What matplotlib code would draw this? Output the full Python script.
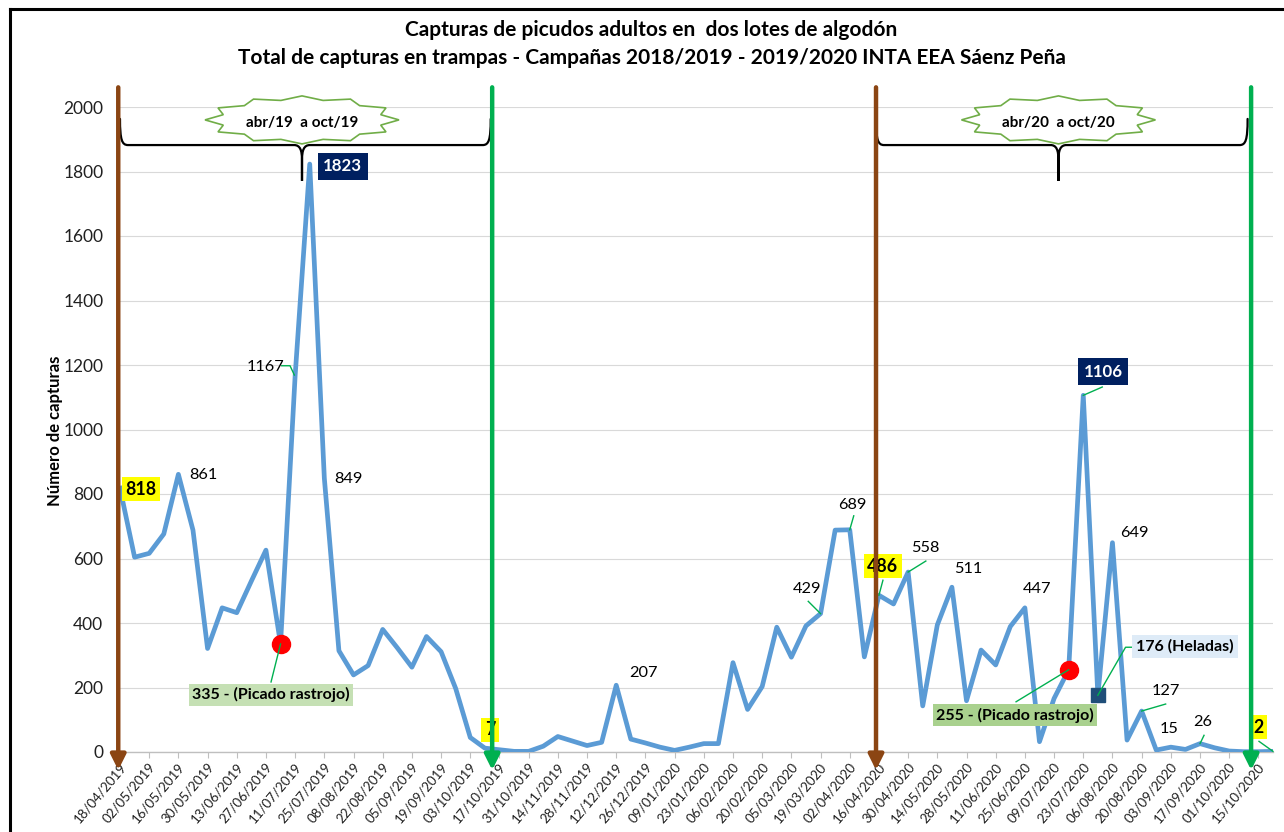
import numpy as np
import matplotlib
matplotlib.use("Agg")
import matplotlib.pyplot as plt
from matplotlib.path import Path
from matplotlib.patches import PathPatch, Polygon
from matplotlib.lines import Line2D
from matplotlib.transforms import ScaledTranslation

plt.rcParams['font.family'] = ['Lato', 'DejaVu Sans']

# capturas semanales 18/04/2019 .. 22/10/2020
capturas = [818, 604, 616, 676, 861, 688, 321, 447, 432, 530,
            626, 335, 1167, 1823, 849, 314, 239, 268, 380, 323,
            263, 358, 311, 197, 45, 12, 7, 2, 2, 18,
            48, 34, 20, 30, 207, 40, 28, 15, 5, 15,
            26, 26, 277, 132, 203, 387, 294, 391, 429, 688,
            689, 295, 486, 459, 558, 143, 394, 511, 159, 316,
            270, 389, 447, 32, 166, 255, 1106, 176, 649, 37,
            127, 6, 15, 8, 26, 13, 3, 1, 1, 2]

fechas = ['18/04/2019', '02/05/2019', '16/05/2019', '30/05/2019', '13/06/2019',
          '27/06/2019', '11/07/2019', '25/07/2019', '08/08/2019', '22/08/2019',
          '05/09/2019', '19/09/2019', '03/10/2019', '17/10/2019', '31/10/2019',
          '14/11/2019', '28/11/2019', '12/12/2019', '26/12/2019', '09/01/2020',
          '23/01/2020', '06/02/2020', '20/02/2020', '05/03/2020', '19/03/2020',
          '02/04/2020', '16/04/2020', '30/04/2020', '14/05/2020', '28/05/2020',
          '11/06/2020', '25/06/2020', '09/07/2020', '23/07/2020', '06/08/2020',
          '20/08/2020', '03/09/2020', '17/09/2020', '01/10/2020', '15/10/2020']

picado_idx = [11, 65]
helada_idx = [67]

# marcas de inicio (marrón) y fin (verde) de cada campaña
inicio_x = [-0.12, 51.8]
fin_x = [25.5, 77.5]
periodos = ['abr/19  a oct/19', 'abr/20  a oct/20']
llave_x = [(0, 12.47, 25.4), (51.8, 64.3, 77.26)]

# etiquetas: indice, texto, desplazamiento en px (x, y hacia abajo), tipo, guia
etiquetas = [
    (0, '818', 21, 1, 'amarillo', None),
    (4, '861', 25, 1, 'normal', None),
    (12, '1167', -30, -9, 'normal', [(-13.4, -9.9), (-5.1, -9.9), (-0.8, -0.6)]),
    (13, '1823', 33, 2, 'azul', None),
    (14, '849', 24, 1, 'normal', None),
    (11, '335 - (Picado rastrojo)', -9.5, 51, 'verde1', [(-9.5, 38), (0, 0)]),
    (26, '7', -9.5, -20, 'amarillo', None),
    (34, '207', 27, -12, 'normal', None),
    (48, '429', -13.3, -25, 'normal', [(-12.3, -12.3), (0, 0)]),
    (50, '689', 3, -25, 'normal', [(4, -14), (0, 0)]),
    (52, '486', 4, -29, 'amarillo', [(4, -15), (0, 0)]),
    (54, '558', 17, -24, 'normal', [(17.7, -11), (0, 0)]),
    (57, '511', 16.6, -18, 'normal', None),
    (62, '447', 11.7, -19.3, 'normal', None),
    (66, '1106', 20, -23.5, 'azul', [(19, -8.3), (0, 0)]),
    (68, '649', 21.7, -10, 'normal', None),
    (67, '176 (Heladas)', 87.4, -48.7, 'celeste', [(36, -48), (27.7, -48), (0, 0)]),
    (65, '255 - (Picado rastrojo)', -53.6, 45.3, 'verde2', [(-52.6, 32), (0, 0)]),
    (70, '127', 24, -20, 'normal', [(24, -7), (0, 0)]),
    (72, '15', -1.7, -18.3, 'normal', None),
    (74, '26', 3, -21.3, 'normal', [(4, -8.3), (0, 0)]),
    (79, '2', -14.3, -24, 'amarillo', [(-14, -10), (0, 0)]),
]

W, H = 1284, 832
fig = plt.figure(figsize=(W / 100, H / 100), dpi=100)
L, R, B, T = 120, 1273, 752, 107
ax = fig.add_axes([L / W, (H - B) / H, (R - L) / W, (B - T) / H])

x = np.arange(len(capturas))
ax.set_xlim(0, len(capturas) - 1)
ax.set_ylim(0, 2000)
PX_X = (R - L) / (len(capturas) - 1)
PX_Y = (B - T) / 2000


def off(i, v, dx, dy):
    return i + dx / PX_X, v - dy / PX_Y


ax.grid(axis='y', color='#D9D9D9', lw=0.8)
ax.set_axisbelow(True)
for s in ['top', 'right', 'left']:
    ax.spines[s].set_visible(False)
ax.spines['bottom'].set_color('#BFBFBF')
ax.spines['bottom'].set_linewidth(1)

ax.plot(x, capturas, color='#5B9BD5', lw=3.4, solid_joinstyle='round', zorder=3)
ax.plot(picado_idx, [capturas[i] for i in picado_idx], 'o', color='#FF0000',
        ms=13, zorder=4)
ax.plot(helada_idx, [capturas[i] for i in helada_idx], 's', color='#1F4E79',
        ms=10, zorder=4)

ax.set_yticks(range(0, 2001, 200))
ax.tick_params(axis='y', length=0, pad=12, labelsize=12.5, labelcolor='#202020')
ax.set_xticks(range(0, len(capturas), 2))
ax.set_xticklabels(fechas, rotation=50, ha='right', va='center',
                   rotation_mode='anchor')
ax.tick_params(axis='x', length=4, color='#BFBFBF', pad=5, labelsize=9.6,
               labelcolor='#202020')
for lab in ax.get_xticklabels():
    lab.set_transform(lab.get_transform() + ScaledTranslation(4 / 100, 0, fig.dpi_scale_trans))
fig.text(55 / W, 1 - 431 / H, 'Número de capturas', rotation=90, ha='center',
         va='center', fontsize=12, fontweight='bold')

estilos = {
    'normal': dict(fontsize=11.8, color='black'),
    'amarillo': dict(fontsize=12.8, fontweight='bold', color='black',
                     bbox=dict(boxstyle='square,pad=0.2', fc='#FFFF00', ec='none')),
    'azul': dict(fontsize=12.2, fontweight='bold', color='white',
                 bbox=dict(boxstyle='square,pad=0.32', fc='#002060', ec='none')),
    'verde1': dict(fontsize=11.5, fontweight='bold', color='black',
                   bbox=dict(boxstyle='square,pad=0.22', fc='#C5E0B4', ec='none')),
    'verde2': dict(fontsize=11.5, fontweight='bold', color='black',
                   bbox=dict(boxstyle='square,pad=0.22', fc='#A9D18E', ec='none')),
    'celeste': dict(fontsize=11.5, fontweight='bold', color='black',
                    bbox=dict(boxstyle='square,pad=0.25', fc='#DEEBF7', ec='none')),
}
for i, txt, dx, dy, tipo, guia in etiquetas:
    v = capturas[i]
    tx, ty = off(i, v, dx, dy)
    ax.text(tx, ty, txt, ha='center', va='center', zorder=6, clip_on=False,
            **estilos[tipo])
    if guia:
        pts = [off(i, v, gx, gy) for gx, gy in guia]
        ax.plot([p[0] for p in pts], [p[1] for p in pts], color='#00B050',
                lw=1, zorder=5, clip_on=False)

# llaves
y_top, y_mid, y_bot = 1963, 1882, 1771
for x0, xm, x1 in llave_x:
    ddx = 8 / PX_X
    ddy = 15 / PX_Y
    verts = [(x0, y_top), (x0, y_mid + 5 / PX_Y), (x0 + 2 / PX_X, y_mid), (x0 + ddx, y_mid),
             (xm - ddx, y_mid),
             (xm - 2 / PX_X, y_mid), (xm, y_mid - 5 / PX_Y), (xm, y_mid - ddy),
             (xm, y_bot),
             (xm, y_mid - ddy),
             (xm, y_mid - 5 / PX_Y), (xm + 2 / PX_X, y_mid), (xm + ddx, y_mid),
             (x1 - ddx, y_mid),
             (x1 - 2 / PX_X, y_mid), (x1, y_mid + 5 / PX_Y), (x1, y_top)]
    codes = [Path.MOVETO, Path.CURVE4, Path.CURVE4, Path.CURVE4,
             Path.LINETO,
             Path.CURVE4, Path.CURVE4, Path.CURVE4,
             Path.LINETO, Path.LINETO,
             Path.CURVE4, Path.CURVE4, Path.CURVE4,
             Path.LINETO,
             Path.CURVE4, Path.CURVE4, Path.CURVE4]
    ax.add_patch(PathPatch(Path(verts, codes), fc='none', ec='black', lw=1.6,
                           clip_on=False, zorder=5, capstyle='round'))

# estrellas con el periodo
n_puntas = 12
ang = np.linspace(0, 2 * np.pi, 2 * n_puntas, endpoint=False)
rad = np.where(np.arange(2 * n_puntas) % 2 == 0, 1.0, 0.84)
for (x0, xm, x1), txt in zip(llave_x, periodos):
    cx, cy = xm, 1960
    a, b = 97 / PX_X, 24 / PX_Y
    pts = np.column_stack([cx + a * rad * np.cos(ang), cy + b * rad * np.sin(ang)])
    ax.add_patch(Polygon(pts, closed=True, fc='white', ec='#70AD47', lw=1.2,
                         clip_on=False, zorder=6))
    ax.text(cx, cy - 3 / PX_Y, txt, ha='center', va='center', fontsize=11,
            fontweight='bold', zorder=7, clip_on=False)

# flechas verticales
for xi, col in [(inicio_x[0], '#8B4513'), (fin_x[0], '#00B050'),
                (inicio_x[1], '#8B4513'), (fin_x[1], '#00B050')]:
    ax.annotate('', xy=(xi, -56), xytext=(xi, 2061),
                arrowprops=dict(arrowstyle='-|>,head_length=0.6,head_width=0.3',
                                color=col, lw=3.2, mutation_scale=15,
                                shrinkA=0, shrinkB=0),
                annotation_clip=False, zorder=8)

fig.text(651.5 / W, 1 - 30 / H, 'Capturas de picudos adultos en  dos lotes de algodón',
         ha='center', va='center', fontsize=15, fontweight='bold')
fig.text(651.5 / W, 1 - 58 / H,
         'Total de capturas en trampas - Campañas 2018/2019 - 2019/2020 INTA EEA Sáenz Peña',
         ha='center', va='center', fontsize=15, fontweight='bold')

# marco
fig.add_artist(Line2D([10 / W, 1], [1 - 9 / H, 1 - 9 / H], color='black', lw=2.2,
                      transform=fig.transFigure))
fig.add_artist(Line2D([10 / W, 10 / W], [0, 1 - 9 / H], color='black', lw=2.2,
                      transform=fig.transFigure))

fig.savefig('out.png', dpi=100)
